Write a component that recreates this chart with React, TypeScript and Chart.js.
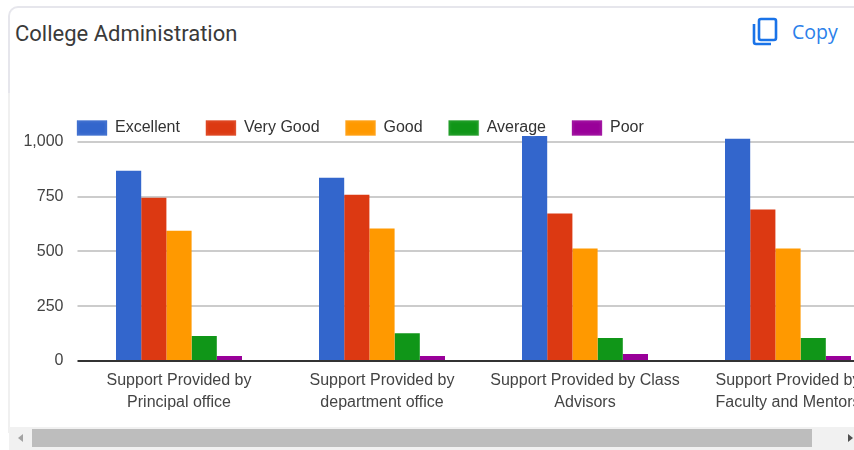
import React, { useEffect, useRef } from "react";
import { Chart, registerables } from "chart.js";

Chart.register(...registerables);

const categories = [
  ["Support Provided by", "Principal office"],
  ["Support Provided by", "department office"],
  ["Support Provided by Class", "Advisors"],
  ["Support Provided by", "Faculty and Mentors"],
];
const excellent = [868, 836, 1027, 1014];
const veryGood = [745, 759, 673, 691];
const good = [595, 605, 514, 514];
const average = [114, 127, 105, 105];
const poor = [23, 23, 32, 23];
const yTickStep = 250;
const seriesColors = ["#3366cc", "#dc3912", "#ff9900", "#109618", "#990099"];
const seriesNames = ["Excellent", "Very Good", "Good", "Average", "Poor"];
const paleColors = ["rgba(51,102,204,.3)", "rgba(220,57,18,.3)", "rgba(255,153,0,.3)", "rgba(16,150,24,.3)", "rgba(153,0,153,.3)"];

const FONT = "'Liberation Sans', Arial, sans-serif";

const legendOnTop = {
  id: "legendOnTop",
  afterLayout(chart: any) {
    const l = chart.legend;
    if (!l.__orig) {
      l.__orig = l.draw;
      l.draw = () => {};
    }
    l.left = 51;
    l.right = 890;
    l.top = 94;
    l.bottom = l.top + l.height;
  },
  afterDatasetsDraw(chart: any) {
    const { ctx, legend } = chart;
    ctx.save();
    ctx.shadowColor = "#ffffff";
    ctx.shadowBlur = 3;
    legend.__orig.call(legend);
    ctx.restore();
  },
};

export default function App() {
  const ref = useRef<HTMLCanvasElement>(null);

  useEffect(() => {
    const values = [excellent, veryGood, good, average, poor];
    const chart = new Chart(ref.current!, {
      type: "bar",
      data: {
        labels: categories,
        datasets: seriesNames.map((name, i) => ({
          label: name,
          data: values[i],
          backgroundColor: seriesColors[i],
          borderWidth: 0,
          categoryPercentage: 126 / 203,
          barPercentage: 1,
        })),
      },
      plugins: [legendOnTop],
      options: {
        animation: false,
        responsive: false,
        layout: { padding: { top: 68, right: 0.5, left: 0, bottom: 0 } },
        plugins: {
          tooltip: { enabled: false },
          title: { display: false },
          legend: {
            display: true,
            position: "top",
            align: "start",
            labels: {
              boxWidth: 30,
              boxHeight: 15,
              padding: 26,
              color: "#333333",
              font: { family: FONT, size: 16 },
              generateLabels: () =>
                seriesNames.map((name, i) => ({
                  text: name,
                  fillStyle: seriesColors[i],
                  strokeStyle: paleColors[i],
                  lineWidth: 1,
                  fontColor: "#333333",
                  datasetIndex: i,
                })),
            },
          },
        },
        scales: {
          x: {
            grid: { display: false },
            border: { display: false },
            afterFit: (s: any) => {
              s.height = 89;
            },
            ticks: {
              color: "#444444",
              font: { family: FONT, size: 16, lineHeight: 22 / 16 },
              padding: 1,
              maxRotation: 0,
              minRotation: 0,
              autoSkip: false,
            },
          },
          y: {
            min: 0,
            max: 1100,
            grid: {
              lineWidth: 2,
              color: (c: any) => (c.tick.value === 0 ? "#333333" : "#cccccc"),
              tickLength: 0,
            },
            border: { display: false },
            afterFit: (s: any) => {
              s.width = 77.5;
            },
            ticks: {
              stepSize: yTickStep,
              includeBounds: false,
              color: "#444444",
              font: { family: FONT, size: 16 },
              padding: 14,
              callback: (v: any) => Number(v).toLocaleString("en-US"),
            },
          },
        },
      },
    } as any);
    return () => chart.destroy();
  }, []);

  return (
    <div style={{ position: "fixed", left: 0, top: 0, width: 854, height: 450, overflow: "hidden", background: "#fff" }}>
      <div
        style={{
          position: "absolute", left: 8, top: 6, width: 900, height: 90,
          borderTop: "2px solid #e6e6ec", borderLeft: "2px solid #e6e6ec", borderTopLeftRadius: 10,
          boxSizing: "border-box",
        }}
      />
      <div style={{ position: "absolute", left: 8, top: 93, width: 2, height: 340, background: "#f0f0f0" }} />
      <div style={{ position: "absolute", left: 15, top: 21, font: "22px Roboto, sans-serif", color: "#3a3a3a", whiteSpace: "nowrap" }}>
        College Administration
      </div>
      <svg style={{ position: "absolute", left: 752, top: 17 }} width="26" height="29" viewBox="0 0 26 29" fill="none" stroke="#1a73e8" strokeWidth="2.6">
        <rect x="7" y="2" width="17" height="21" rx="2" />
        <path d="M2 7 V25 a2 2 0 0 0 2 2 H19" />
      </svg>
      <div style={{ position: "absolute", left: 792, top: 18, font: "19.5px 'Open Sans', sans-serif", color: "#2b80ea", whiteSpace: "nowrap" }}>
        Copy
      </div>
      <canvas ref={ref} width={890} height={450} style={{ position: "absolute", left: 0, top: 0, width: 890, height: 450 }} />
      <div style={{ position: "absolute", left: 9, top: 427, width: 845, height: 23, background: "#f1f1f1" }} />
      <div style={{ position: "absolute", left: 32, top: 429, width: 780, height: 18, background: "#bdbdbd" }} />
      <div style={{ position: "absolute", left: 18, top: 434, width: 0, height: 0, borderTop: "4.5px solid transparent", borderBottom: "4.5px solid transparent", borderRight: "5px solid #a3a3a3" }} />
      <div style={{ position: "absolute", left: 848, top: 434, width: 0, height: 0, borderTop: "4.5px solid transparent", borderBottom: "4.5px solid transparent", borderLeft: "5px solid #505050" }} />
    </div>
  );
}
